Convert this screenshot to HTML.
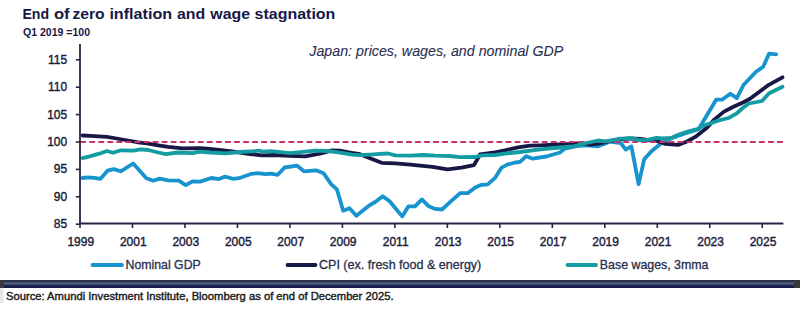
<!DOCTYPE html>
<html><head><meta charset="utf-8"><style>
html,body{margin:0;padding:0;background:#fff;width:800px;height:311px;overflow:hidden}
svg{display:block}
text{font-family:"Liberation Sans",sans-serif}
</style></head><body>
<svg width="800" height="311" viewBox="0 0 800 311">
<rect width="800" height="311" fill="#fff"/>
<g font-size="15" font-weight="bold" fill="#171846"><text x="22.4" y="18.7" textLength="26.7" lengthAdjust="spacingAndGlyphs">End</text><text x="53.9" y="18.7" textLength="15.7" lengthAdjust="spacingAndGlyphs">of</text><text x="72.4" y="18.7" textLength="32.2" lengthAdjust="spacingAndGlyphs">zero</text><text x="109.4" y="18.7" textLength="62.7" lengthAdjust="spacingAndGlyphs">inflation</text><text x="176.9" y="18.7" textLength="28.2" lengthAdjust="spacingAndGlyphs">and</text><text x="210.3" y="18.7" textLength="39.7" lengthAdjust="spacingAndGlyphs">wage</text><text x="254.6" y="18.7" textLength="80.8" lengthAdjust="spacingAndGlyphs">stagnation</text></g>
<text x="23" y="35.8" font-size="11.2" font-weight="bold" fill="#171846" textLength="67" lengthAdjust="spacingAndGlyphs">Q1 2019 =100</text>
<text x="309.3" y="56.2" font-size="14.2" font-style="italic" fill="#2a3050" stroke="#2a3050" stroke-width="0.1" textLength="254" lengthAdjust="spacingAndGlyphs">Japan: prices, wages, and nominal GDP</text>
<g fill="#1c1c3a" stroke="#1c1c3a" stroke-width="0.4" font-size="12"><text x="67.2" y="63.70" text-anchor="end">115</text><text x="67.2" y="91.10" text-anchor="end">110</text><text x="67.2" y="118.50" text-anchor="end">105</text><text x="67.2" y="145.90" text-anchor="end">100</text><text x="67.2" y="173.30" text-anchor="end">95</text><text x="67.2" y="200.70" text-anchor="end">90</text><text x="67.2" y="228.10" text-anchor="end">85</text><text x="80.80" y="246.2" text-anchor="middle">1999</text><text x="133.28" y="246.2" text-anchor="middle">2001</text><text x="185.76" y="246.2" text-anchor="middle">2003</text><text x="238.24" y="246.2" text-anchor="middle">2005</text><text x="290.72" y="246.2" text-anchor="middle">2007</text><text x="343.20" y="246.2" text-anchor="middle">2009</text><text x="395.68" y="246.2" text-anchor="middle">2011</text><text x="448.16" y="246.2" text-anchor="middle">2013</text><text x="500.64" y="246.2" text-anchor="middle">2015</text><text x="553.12" y="246.2" text-anchor="middle">2017</text><text x="605.60" y="246.2" text-anchor="middle">2019</text><text x="658.08" y="246.2" text-anchor="middle">2021</text><text x="710.56" y="246.2" text-anchor="middle">2023</text><text x="763.04" y="246.2" text-anchor="middle">2025</text></g>
<g fill="none" stroke-width="3.8" stroke-linejoin="round" stroke-linecap="round">
<polyline stroke="#1793cd" points="82.6,178 88,177.3 94.3,177.8 100.6,178.8 107.5,170.7 113.8,169.1 120.7,171.3 133.2,163.5 146.4,178.2 153.3,180.7 159.6,178.6 168.3,180.3 178.8,180.7 185.7,185.1 192.6,181.3 200.1,181.6 211.4,178 218.9,179.1 225.2,176.6 232.7,178.8 239,178.2 251.6,173.8 257.8,173.2 265.4,174.1 270.8,173.6 277.7,174.8 284.6,167.5 297.1,165.7 304,171.3 316,170.3 323.5,173.2 331.3,184.4 336.9,189.4 343.2,210.7 349.5,208.2 356.4,215.8 368.9,205.7 375.2,202 382.7,196.3 389.6,201.3 402.2,216.4 408.5,206.3 415,206.3 421.9,199.4 428.8,206.3 435.1,208.9 442,209.5 448.9,203.2 460.2,193.2 467.7,193.2 475.2,187.5 481.5,184.8 487.8,184.4 495.3,177.6 501.6,167.6 507.8,164.4 515.4,162.5 520,161.9 526.3,156.2 532.6,158.7 546.4,156.5 560,152.5 564,149 575,146.3 584,145.3 590,145.5 598,146.3 604,144 610,141.5 620.9,143.2 625.7,149.6 631.4,146.4 638.6,184.2 644.2,159.3 651.4,151.3 662.5,142.2 672,138 685,133.5 698.5,129.2 716.3,99.6 722.4,99.5 730.3,93.7 736.8,98.1 743.5,85 756,71.7 763.2,66.7 769,53.7 776.2,54.4"/>
<polyline stroke="#171846" points="82.6,135.5 90.5,135.9 106.9,136.9 119.4,139 128.2,140.5 138.2,142.4 148.3,143.7 158.3,145.3 168.3,146.8 182.5,148.4 200,148.2 210,149 230,151.2 250,154 262,155.4 274.5,155 290,155.8 305,156.3 320,153.6 332,150.3 340,150.6 350,152.5 360,154.2 370,158.3 381.6,162.8 395.4,163.3 410.5,164.6 420,165.7 432.5,166.9 447.6,169.4 461.4,167.6 474,165.1 480,154.5 495,152.3 505,150.3 518,147.3 530,145.6 540,145.3 570,144 582,143.2 590,144.5 602,143 617.6,139.5 630.2,138.3 640,139 647,140 655,140.5 660,142 665.4,143.9 678,144.9 686.6,141.7 695.3,136.9 706,128.6 714.5,119.4 724,111.6 733.4,106.8 743,102.5 750,98.8 768.8,84.8 782.5,77.3"/>
<line x1="80.2" y1="142" x2="784" y2="142" stroke="#c8346a" stroke-width="2.2" stroke-dasharray="5.85 3.2" stroke-linecap="butt"/>
<polyline stroke="#139ca2" points="82.6,158.1 90.5,156.2 99.3,153.7 106.9,151 113.1,152.8 120.7,150.3 133.2,150.6 140.7,149.3 148.3,150 158.3,152.5 165.8,154.1 178,152.5 192.6,153.1 200.1,151.6 210.2,152.5 225.2,153.3 240,152 255,151.2 258.5,150.5 262.8,151.6 270.8,151.2 290,153.2 303,151.8 315,150.7 328,151 340,152.6 352.3,154.6 360,155.2 370,154.6 376.6,154.1 387.9,153.5 395.4,155.4 410.5,155.6 423,155 435.6,155.7 449.4,156 460,157.2 475,157 482,155.3 495,155 505,153.6 520,152 540,149.3 560,147.5 573,146.5 582,144 598,140.5 605,141.3 621.3,138.6 631,138.2 640,140.2 647.5,139.8 656.5,137.8 662.5,138.3 671.2,138 678.9,134.5 688.6,131.4 697.3,129.2 704.5,125.2 718.9,120.4 728.6,118 736.3,113.7 743,107.8 749,103.5 762,101 768.8,93.5 782.5,86.8"/>
</g>
<g stroke="#262646" stroke-width="1.6"><line x1="75.8" y1="59.80" x2="80" y2="59.80"/><line x1="75.8" y1="87.20" x2="80" y2="87.20"/><line x1="75.8" y1="114.60" x2="80" y2="114.60"/><line x1="75.8" y1="142.00" x2="80" y2="142.00"/><line x1="75.8" y1="169.40" x2="80" y2="169.40"/><line x1="75.8" y1="196.80" x2="80" y2="196.80"/><line x1="75.8" y1="224.20" x2="80" y2="224.20"/><line x1="80.00" y1="223.5" x2="80.00" y2="228"/><line x1="132.48" y1="223.5" x2="132.48" y2="228"/><line x1="184.96" y1="223.5" x2="184.96" y2="228"/><line x1="237.44" y1="223.5" x2="237.44" y2="228"/><line x1="289.92" y1="223.5" x2="289.92" y2="228"/><line x1="342.40" y1="223.5" x2="342.40" y2="228"/><line x1="394.88" y1="223.5" x2="394.88" y2="228"/><line x1="447.36" y1="223.5" x2="447.36" y2="228"/><line x1="499.84" y1="223.5" x2="499.84" y2="228"/><line x1="552.32" y1="223.5" x2="552.32" y2="228"/><line x1="604.80" y1="223.5" x2="604.80" y2="228"/><line x1="657.28" y1="223.5" x2="657.28" y2="228"/><line x1="709.76" y1="223.5" x2="709.76" y2="228"/><line x1="762.24" y1="223.5" x2="762.24" y2="228"/></g>
<line x1="80" y1="44" x2="80" y2="224.5" stroke="#262646" stroke-width="1.8"/>
<line x1="79.1" y1="223.5" x2="783.4" y2="223.5" stroke="#262646" stroke-width="2"/>
<g stroke-width="3.8" stroke-linecap="round">
<line x1="92.5" y1="265" x2="122" y2="265" stroke="#1793cd"/>
<line x1="287.5" y1="265" x2="315.5" y2="265" stroke="#171846"/>
<line x1="567.5" y1="265" x2="596" y2="265" stroke="#139ca2"/>
</g>
<g fill="#28304e" stroke="#28304e" stroke-width="0.3" font-size="12.4">
<text x="125.5" y="269" textLength="75.3" lengthAdjust="spacingAndGlyphs">Nominal GDP</text>
<text x="319" y="269" textLength="162.3" lengthAdjust="spacingAndGlyphs">CPI (ex. fresh food &amp; energy)</text>
<text x="599.8" y="269" textLength="108.7" lengthAdjust="spacingAndGlyphs">Base wages, 3mma</text>
</g>
<defs><linearGradient id="bar" x1="0" y1="0" x2="0" y2="1">
<stop offset="0" stop-color="#2b2d40"/><stop offset="0.2" stop-color="#2c3852"/><stop offset="0.45" stop-color="#55668a"/><stop offset="0.62" stop-color="#243260"/><stop offset="0.8" stop-color="#1a2050"/><stop offset="1" stop-color="#171a48"/>
</linearGradient></defs>
<rect x="0" y="280" width="800" height="8" fill="url(#bar)"/>
<rect x="0" y="280" width="4" height="8" fill="#3a3a3a"/>
<rect x="794" y="280" width="6" height="8" fill="#3a3a3a"/>
<rect x="0" y="288" width="3.5" height="15" fill="#e6e6e6"/>
<text x="6" y="299.5" font-size="11" fill="#1a1a1a" stroke="#1a1a1a" stroke-width="0.4" textLength="387.5" lengthAdjust="spacingAndGlyphs">Source: Amundi Investment Institute, Bloomberg as of end of December 2025.</text>
</svg>
</body></html>
